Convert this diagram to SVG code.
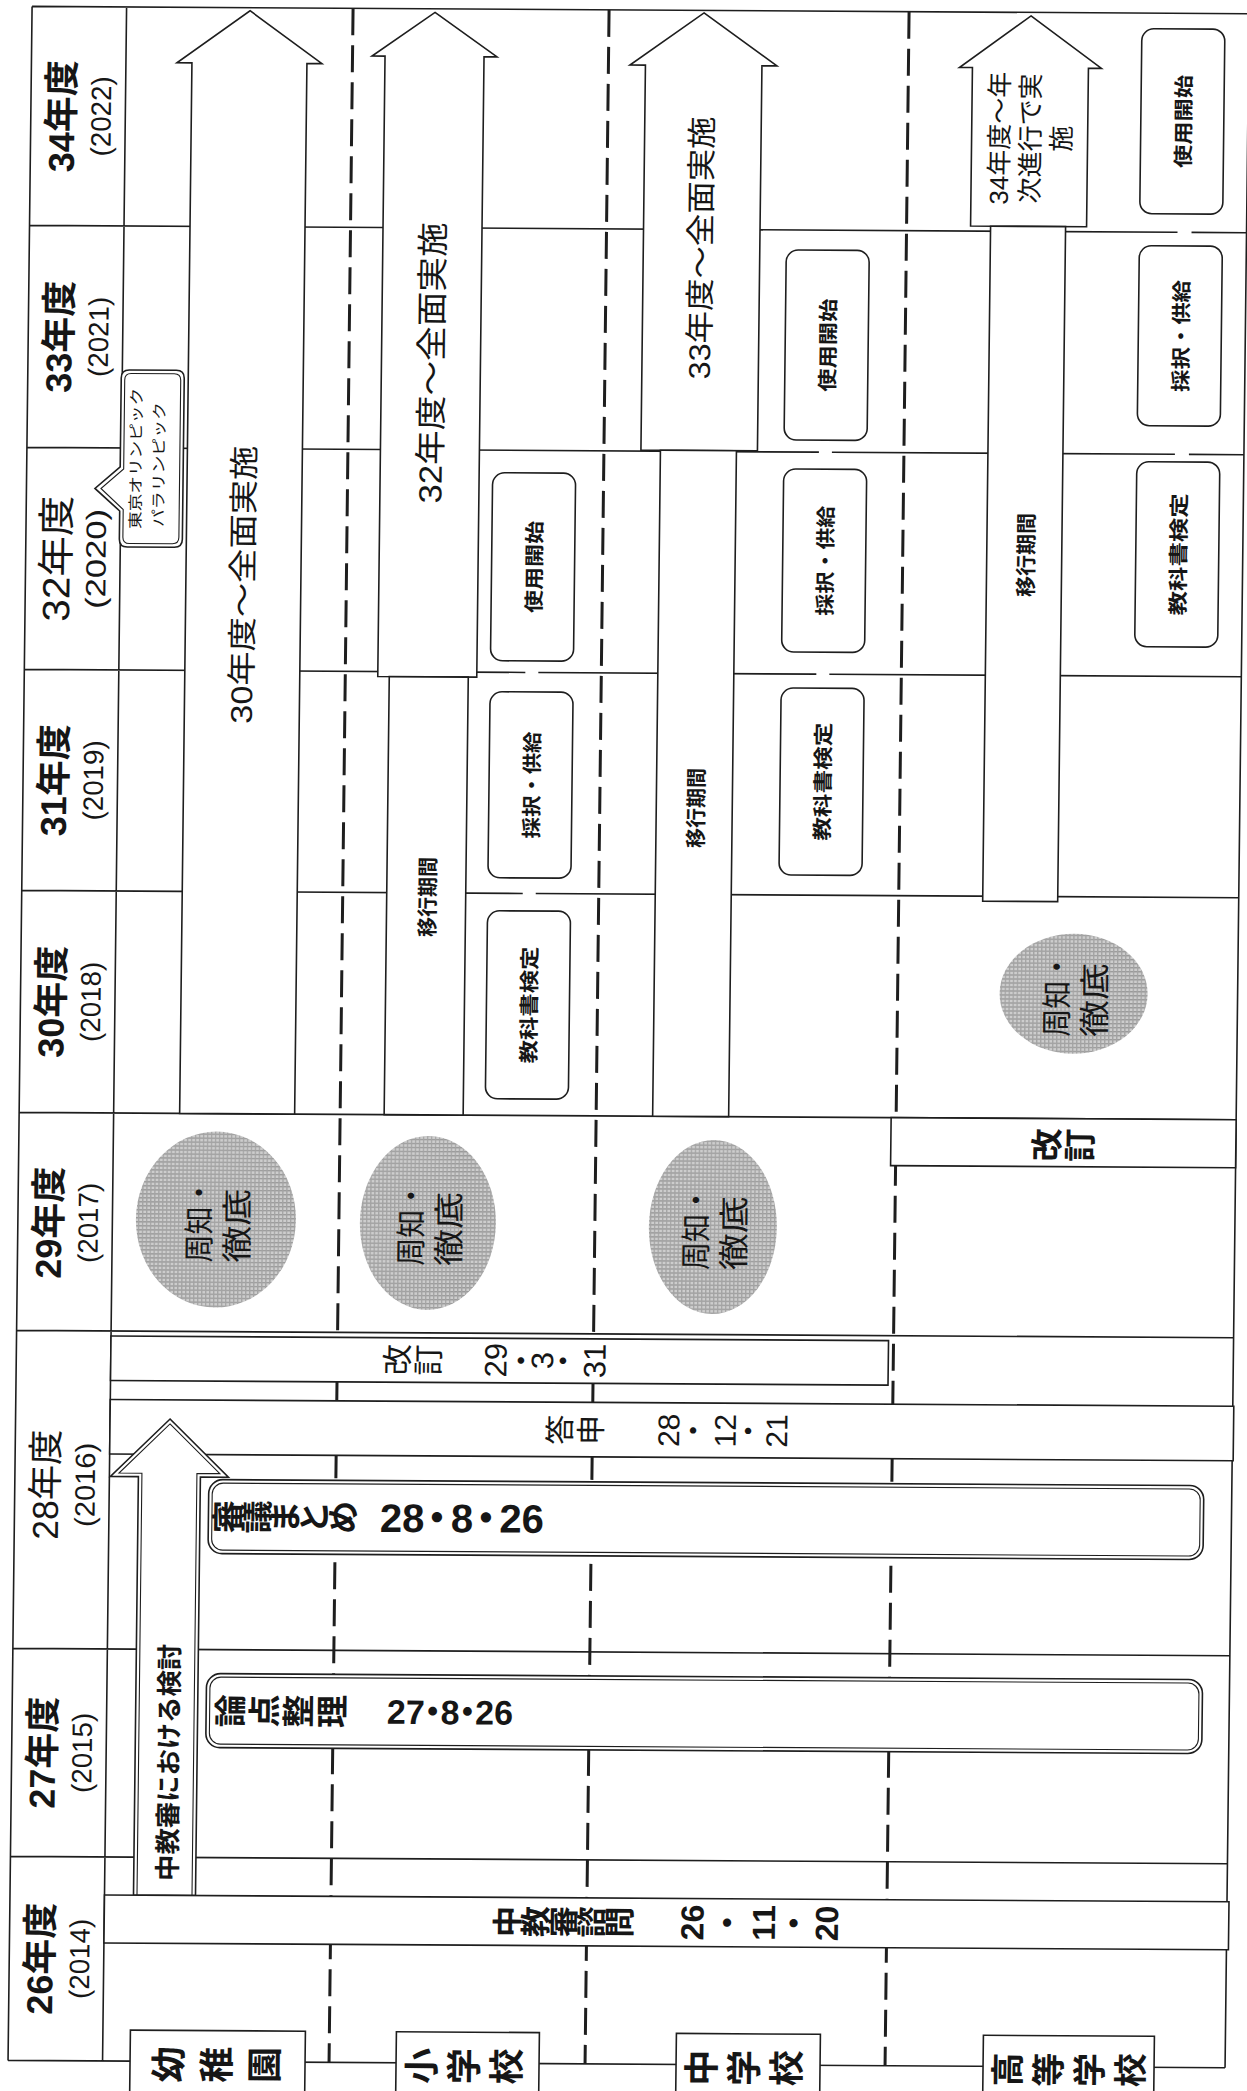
<svg xmlns="http://www.w3.org/2000/svg" width="1247" height="2091" viewBox="0 0 1247 2091">
<defs>
<style>
.ln{fill:none;stroke:#1e1e1e;stroke-width:1.6}
.ds{fill:none;stroke:#1e1e1e;stroke-width:3;stroke-dasharray:27 10}
.sh{fill:#fff;stroke:#1e1e1e;stroke-width:1.6}
.in{fill:none;stroke:#1e1e1e;stroke-width:1.1}
.jp{font-family:'Noto Sans CJK JP','Noto Sans CJK SC',sans-serif;fill:#161616}
.nm{font-family:'Liberation Sans','Noto Sans CJK JP',sans-serif;fill:#161616}
.c{text-anchor:middle;dominant-baseline:central}
.b{font-weight:700}
.circ{fill:url(#mesh)}
</style>
<pattern id="mesh" width="4" height="4" patternUnits="userSpaceOnUse">
<rect width="4" height="4" fill="#cdcdcd"/>
<rect width="4" height="1.3" fill="#999"/>
<rect width="1.3" height="4" fill="#a4a4a4"/>
</pattern>
</defs>
<rect width="1247" height="2091" fill="#fff"/>
<g transform="matrix(1 0.006 -0.0117 1 12.2 -3.7)">
<g id="grid-lines">
<path class="ln" d="M20 10H1237 M20 2064H1237 M20 10V2064 M1237 10V2064 M114.5 10V2064 M20 229H1168 M1182 229H1237 M20 451H812 M825 451H1168 M1182 451H1237 M20 673H521 M534 673H812 M825 673H1237 M20 894H521 M534 894H1237 M20 1116H1237 M20 1334H1237 M20 1652H1237 M20 1860H1237"/>
<path class="ds" d="M341 10V2064 M597 10V2064 M897 10V2064"/>
</g>

<g id="years">
<g id="y2022"><text class="nm b c" font-size="36" x="51" y="119.5" transform="rotate(-90 51 119.5)">34年度</text><text class="nm c" font-size="28" x="90.5" y="119.5" textLength="80" lengthAdjust="spacingAndGlyphs" transform="rotate(-90 90.5 119.5)">(2022)</text></g>
<g id="y2021"><text class="nm b c" font-size="36" x="51" y="340" transform="rotate(-90 51 340)">33年度</text><text class="nm c" font-size="28" x="90.5" y="340" textLength="80" lengthAdjust="spacingAndGlyphs" transform="rotate(-90 90.5 340)">(2021)</text></g>
<g id="y2020"><text class="nm c" font-size="38" x="51" y="562" textLength="126" lengthAdjust="spacingAndGlyphs" transform="rotate(-90 51 562)">32年度</text><text class="nm c" font-size="28" x="90.5" y="562" textLength="100" lengthAdjust="spacingAndGlyphs" transform="rotate(-90 90.5 562)">(2020)</text></g>
<g id="y2019"><text class="nm b c" font-size="36" x="51" y="783.5" transform="rotate(-90 51 783.5)">31年度</text><text class="nm c" font-size="28" x="90.5" y="783.5" textLength="80" lengthAdjust="spacingAndGlyphs" transform="rotate(-90 90.5 783.5)">(2019)</text></g>
<g id="y2018"><text class="nm b c" font-size="36" x="51" y="1005" transform="rotate(-90 51 1005)">30年度</text><text class="nm c" font-size="28" x="90.5" y="1005" textLength="80" lengthAdjust="spacingAndGlyphs" transform="rotate(-90 90.5 1005)">(2018)</text></g>
<g id="y2017"><text class="nm b c" font-size="36" x="51" y="1226" transform="rotate(-90 51 1226)">29年度</text><text class="nm c" font-size="28" x="90.5" y="1226" textLength="80" lengthAdjust="spacingAndGlyphs" transform="rotate(-90 90.5 1226)">(2017)</text></g>
<g id="y2016"><text class="nm c" font-size="36" x="51" y="1488" textLength="110" lengthAdjust="spacingAndGlyphs" transform="rotate(-90 51 1488)">28年度</text><text class="nm c" font-size="28" x="90.5" y="1488" textLength="84" lengthAdjust="spacingAndGlyphs" transform="rotate(-90 90.5 1488)">(2016)</text></g>
<g id="y2015"><text class="nm b c" font-size="36" x="51" y="1756" transform="rotate(-90 51 1756)">27年度</text><text class="nm c" font-size="28" x="90.5" y="1756" textLength="80" lengthAdjust="spacingAndGlyphs" transform="rotate(-90 90.5 1756)">(2015)</text></g>
<g id="y2014"><text class="nm b c" font-size="36" x="51" y="1962" transform="rotate(-90 51 1962)">26年度</text><text class="nm c" font-size="28" x="90.5" y="1962" textLength="80" lengthAdjust="spacingAndGlyphs" transform="rotate(-90 90.5 1962)">(2014)</text></g>
</g>

<g id="olympic-note">
<path class="sh" d="M121.5 373H168.5Q176.5 373 176.5 381V542Q176.5 550 168.5 550H121.5Q113.5 550 113.5 542V514L88.5 491.6L113.5 470V381Q113.5 373 121.5 373Z"/>
<path class="in" d="M123.5 376.5H166.5Q173 376.5 173 383V540Q173 546.5 166.5 546.5H123.5Q117 546.5 117 540V512.5L94.5 491.6L117 472V383Q117 376.5 123.5 376.5Z"/>
<text class="jp c" font-size="15" x="128" y="461.3" textLength="141" lengthAdjust="spacingAndGlyphs" transform="rotate(-90 128 461.3)">東京オリンピック</text>
<text class="jp c" font-size="15" x="151" y="467.3" textLength="125" lengthAdjust="spacingAndGlyphs" transform="rotate(-90 151 467.3)">パラリンピック</text>
</g>

<g id="arrow-kindergarten">
<polygon class="sh" points="238,13 310.5,65.5 295.5,65.5 295.5,1116 180.5,1116 180.5,65.5 165.5,65.5"/>
<text class="nm c" font-size="30" x="237.6" y="587" textLength="278" lengthAdjust="spacingAndGlyphs" transform="rotate(-90 237.6 587)">30年度～全面実施</text>
</g>
<g id="arrow-elementary">
<polygon class="sh" points="423,13.6 485.5,57.6 472.5,57.6 472.5,678 373.5,678 373.5,57.6 360.5,57.6"/>
<text class="nm c" font-size="32" x="424" y="364" textLength="281" lengthAdjust="spacingAndGlyphs" transform="rotate(-90 424 364)">32年度～全面実施</text>
</g>
<g id="arrow-junior">
<polygon class="sh" points="692,12.5 765.5,65 750.5,65 750.5,450 634,450 634,65 618.5,65"/>
<text class="nm c" font-size="30" x="691.5" y="247.5" textLength="263" lengthAdjust="spacingAndGlyphs" transform="rotate(-90 691.5 247.5)">33年度～全面実施</text>
</g>
<g id="arrow-high">
<polygon class="sh" points="1019,13.5 1090,65.5 1077,65.5 1077,224 961,224 961,65.5 948,65.5"/>
<text class="nm c" font-size="26" x="989" y="136" transform="rotate(-90 989 136)">34年度～年</text>
<text class="nm c" font-size="26" x="1020" y="136" transform="rotate(-90 1020 136)">次進行で実</text>
<text class="nm c" font-size="26" x="1051" y="136" transform="rotate(-90 1051 136)">施</text>
</g>

<g id="transition-elementary">
<rect class="sh" x="385" y="678" width="79" height="438"/>
<text class="jp b c" font-size="21" x="424.5" y="898" textLength="80" lengthAdjust="spacingAndGlyphs" transform="rotate(-90 424.5 898)">移行期間</text>
</g>
<g id="transition-junior">
<rect class="sh" x="653.5" y="450" width="76" height="666"/>
<text class="jp b c" font-size="21" x="692" y="807.5" textLength="80" lengthAdjust="spacingAndGlyphs" transform="rotate(-90 692 807.5)">移行期間</text>
</g>
<g id="transition-high">
<rect class="sh" x="981" y="224" width="75" height="675"/>
<text class="jp b c" font-size="21" x="1019" y="552.6" textLength="84" lengthAdjust="spacingAndGlyphs" transform="rotate(-90 1019 552.6)">移行期間</text>
</g>

<g id="elem-use"><rect class="sh" x="486" y="473.5" width="83" height="188" rx="12"/><text class="jp b c" font-size="20" x="527.5" y="567.5" textLength="92" lengthAdjust="spacingAndGlyphs" transform="rotate(-90 527.5 567.5)">使用開始</text></g>
<g id="elem-adopt"><rect class="sh" x="486" y="692.5" width="83" height="186" rx="12"/><text class="jp b c" font-size="20" x="527.5" y="785.5" textLength="107" lengthAdjust="spacingAndGlyphs" transform="rotate(-90 527.5 785.5)">採択・供給</text></g>
<g id="elem-check"><rect class="sh" x="486" y="911.5" width="83" height="188" rx="12"/><text class="jp b c" font-size="20" x="527.5" y="1005.5" textLength="117" lengthAdjust="spacingAndGlyphs" transform="rotate(-90 527.5 1005.5)">教科書検定</text></g>

<g id="jr-use"><rect class="sh" x="777" y="249" width="83" height="190" rx="12"/><text class="jp b c" font-size="20" x="818.5" y="344" textLength="93" lengthAdjust="spacingAndGlyphs" transform="rotate(-90 818.5 344)">使用開始</text></g>
<g id="jr-adopt"><rect class="sh" x="777" y="468" width="83" height="183" rx="12"/><text class="jp b c" font-size="20" x="818.5" y="559.5" textLength="110" lengthAdjust="spacingAndGlyphs" transform="rotate(-90 818.5 559.5)">採択・供給</text></g>
<g id="jr-check"><rect class="sh" x="777" y="687" width="83" height="187" rx="12"/><text class="jp b c" font-size="20" x="818.5" y="780.5" textLength="118" lengthAdjust="spacingAndGlyphs" transform="rotate(-90 818.5 780.5)">教科書検定</text></g>

<g id="hs-use"><rect class="sh" x="1130" y="25.6" width="83" height="185" rx="12"/><text class="jp b c" font-size="20" x="1171.5" y="118" textLength="93" lengthAdjust="spacingAndGlyphs" transform="rotate(-90 1171.5 118)">使用開始</text></g>
<g id="hs-adopt"><rect class="sh" x="1130" y="242.6" width="83" height="180" rx="12"/><text class="jp b c" font-size="20" x="1171.5" y="332.6" textLength="112" lengthAdjust="spacingAndGlyphs" transform="rotate(-90 1171.5 332.6)">採択・供給</text></g>
<g id="hs-check"><rect class="sh" x="1130" y="458.6" width="83" height="185" rx="12"/><text class="jp b c" font-size="20" x="1171.5" y="551" textLength="122" lengthAdjust="spacingAndGlyphs" transform="rotate(-90 1171.5 551)">教科書検定</text></g>

<g id="notice-kindergarten"><ellipse class="circ" cx="218" cy="1222" rx="80" ry="88"/><text class="jp c" font-size="31" x="199" y="1223" textLength="84" lengthAdjust="spacingAndGlyphs" transform="rotate(-90 199 1223)">周知・</text><text class="jp c" font-size="31" x="237" y="1228" textLength="74" lengthAdjust="spacingAndGlyphs" transform="rotate(-90 237 1228)">徹底</text></g>
<g id="notice-elementary"><ellipse class="circ" cx="430" cy="1224" rx="68" ry="87"/><text class="jp c" font-size="31" x="411" y="1225" textLength="84" lengthAdjust="spacingAndGlyphs" transform="rotate(-90 411 1225)">周知・</text><text class="jp c" font-size="31" x="449" y="1230" textLength="74" lengthAdjust="spacingAndGlyphs" transform="rotate(-90 449 1230)">徹底</text></g>
<g id="notice-junior"><ellipse class="circ" cx="715" cy="1226.5" rx="64" ry="87"/><text class="jp c" font-size="31" x="696" y="1227.5" textLength="84" lengthAdjust="spacingAndGlyphs" transform="rotate(-90 696 1227.5)">周知・</text><text class="jp c" font-size="31" x="734" y="1232.5" textLength="74" lengthAdjust="spacingAndGlyphs" transform="rotate(-90 734 1232.5)">徹底</text></g>
<g id="notice-high"><ellipse class="circ" cx="1073" cy="991" rx="74" ry="60"/><text class="jp c" font-size="31" x="1054" y="992" textLength="84" lengthAdjust="spacingAndGlyphs" transform="rotate(-90 1054 992)">周知・</text><text class="jp c" font-size="31" x="1092" y="997" textLength="74" lengthAdjust="spacingAndGlyphs" transform="rotate(-90 1092 997)">徹底</text></g>

<g id="revision-high">
<rect class="sh" x="892" y="1116" width="345" height="48"/>
<text class="jp b" font-size="33" x="1060.2 1093.2" y="1158.9" rotate="-90">改訂</text>
</g>

<g id="revision">
<rect class="sh" x="114.5" y="1339" width="777.5" height="44.5"/>
<text class="nm" font-size="31" x="412.5 443.5 470 510.3 510.3 536.5 556.8 578.5 609.3 609.3" y="1376.5 1376.5 1376.5 1378.2 1361 1376.5 1369.6 1376.5 1378.2 1361" rotate="-90">改訂 29・3・31</text>
</g>
<g id="report">
<rect class="sh" x="114.5" y="1402.5" width="1123.5" height="54.5"/>
<text class="nm" font-size="30" x="575.4 606.4 640 683.7 683.7 708.9 740.2 740.2 763.9 791.7 791.7" y="1445 1445 1445 1446.7 1430 1445 1446.7 1430 1445 1446.7 1430" rotate="-90">答申 28・12・21</text>
</g>

<g id="deliberation-arrow">
<polygon class="sh" points="174.5,1421.7 233.5,1479.5 205.5,1479.5 205.5,1898 143.5,1898 143.5,1479.5 115.5,1479.5"/>
<polygon class="in" points="174.5,1426.6 224.9,1476 202,1476 202,1898 147,1898 147,1476 124.1,1476"/>
<text class="jp b c" font-size="26" x="175" y="1765" textLength="237" lengthAdjust="spacingAndGlyphs" transform="rotate(-90 175 1765)">中教審における検討</text>
</g>

<g id="summary">
<rect class="sh" x="214" y="1482" width="995" height="74" rx="14"/>
<rect class="in" x="217.5" y="1485.5" width="988" height="67" rx="11"/>
<text class="nm b"><tspan rotate="-90" font-size="33" x="245.5 274.3 303.1 331.9 360.7" y="1535.5">審議まとめ</tspan><tspan rotate="0" font-size="40" x="370 385.6 407.8 422.6 456.6 471.6 505.1 527.3" y="1533.3"> 28・8・26</tspan></text>
</g>
<g id="issues">
<rect class="sh" x="214" y="1676" width="996" height="74" rx="14"/>
<rect class="in" x="217.5" y="1679.5" width="989" height="67" rx="11"/>
<text class="nm b"><tspan rotate="-90" font-size="33" x="250.3 284.3 318.3 352.3" y="1729.5">論点整理</tspan><tspan rotate="0" font-size="34" x="380 394.8 413.7 423.5 448.4 458.2 483.1 502" y="1725.2"> 27・8・26</tspan></text>
</g>
<g id="inquiry">
<rect class="sh" x="114.5" y="1898" width="1124.5" height="48"/>
<text class="nm b"><tspan rotate="-90" font-size="31" x="529.1 557.1 585.1 613.1 641.1 660" y="1937.5">中教審諮問 </tspan><tspan rotate="-90" font-size="32" x="713.8 713.8 749.5 785.3 785.3 816 848.3 848.3" y="1939.8 1922 1938 1939.8 1922 1938 1939.8 1922">26・11・20</tspan></text>
</g>

<g id="label-kindergarten"><rect class="sh" x="142" y="2033" width="175" height="80"/><text class="jp b" font-size="36" x="193.7 241.7 289.7" y="2085" rotate="-90">幼稚園</text></g>
<g id="label-elementary"><rect class="sh" x="408" y="2033" width="143" height="80"/><text class="jp b" font-size="36" x="446.7 489.2 531.7" y="2085" rotate="-90">小学校</text></g>
<g id="label-junior"><rect class="sh" x="688" y="2033" width="144" height="80"/><text class="jp b" font-size="36" x="726.7 769.2 811.7" y="2085" rotate="-90">中学校</text></g>
<g id="label-high"><rect class="sh" x="995" y="2033" width="171" height="80"/><text class="jp b" font-size="34" x="1031.9 1072.9 1113.9 1154.9" y="2084" rotate="-90">高等学校</text></g>
</g>
</svg>
